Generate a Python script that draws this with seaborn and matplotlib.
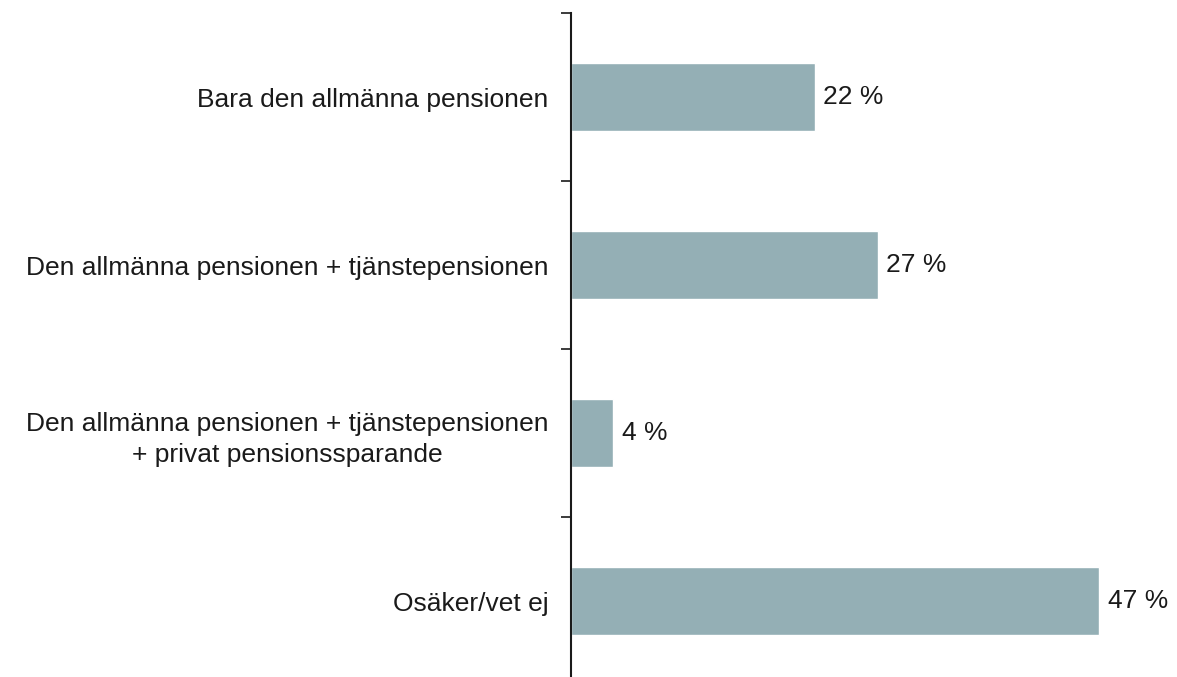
import matplotlib
matplotlib.use("Agg")
import matplotlib.pyplot as plt
import seaborn as sns

# data
categories = [
    "Bara den allmänna pensionen",
    "Den allmänna pensionen + tjänstepensionen",
    "Den allmänna pensionen + tjänstepensionen\n+ privat pensionssparande",
    "Osäker/vet ej",
]
values = [21.7, 27.3, 3.8, 47.0]
value_labels = ["22 %", "27 %", "4 %", "47 %"]

BAR_COLOR = "#94AFB5"
TEXT_COLOR = "#1a1a1a"
FONT_SIZE = 19

sns.set_theme(style="white")
plt.rcParams["font.family"] = ["Liberation Sans", "DejaVu Sans"]

fig = plt.figure(figsize=(11.77, 6.77), dpi=100)
# axes: left edge at x=570px, top at y=13px, runs off the bottom
ax = fig.add_axes([570.5 / 1177, 0, 606.5 / 1177, 664 / 677])

sns.barplot(x=values, y=categories, orient="h", color=BAR_COLOR,
            saturation=1, width=0.4, ax=ax)

ax.set_xlim(0, 606.5 / 11.255)
ax.set_ylim(-0.5 + 664 / 168, -0.5)

# major ticks at category boundaries, labels on minor ticks at centres
ax.set_yticks([-0.5, 0.5, 1.5, 2.5])
ax.set_yticklabels([])
ax.set_yticks(range(len(categories)), categories, minor=True)
ax.tick_params(axis="y", which="major", left=True, length=7.5, width=1.2,
               color=TEXT_COLOR)
ax.tick_params(axis="y", which="minor", left=True, length=0, pad=16,
               labelsize=FONT_SIZE, labelcolor=TEXT_COLOR)
for lbl in ax.get_yticklabels(minor=True):
    lbl.set_multialignment("center")
    lbl.set_linespacing(1.42)

ax.set_xticks([])
ax.set_xlabel("")
ax.set_ylabel("")
for side in ["top", "right", "bottom"]:
    ax.spines[side].set_visible(False)
ax.spines["left"].set_color(TEXT_COLOR)
ax.spines["left"].set_linewidth(1.5)

for i, (v, lab) in enumerate(zip(values, value_labels)):
    ax.annotate(lab, (v, i), xytext=(6, 0), textcoords="offset points",
                va="center", ha="left", fontsize=FONT_SIZE, color=TEXT_COLOR)

fig.savefig("out.png", dpi=100)
